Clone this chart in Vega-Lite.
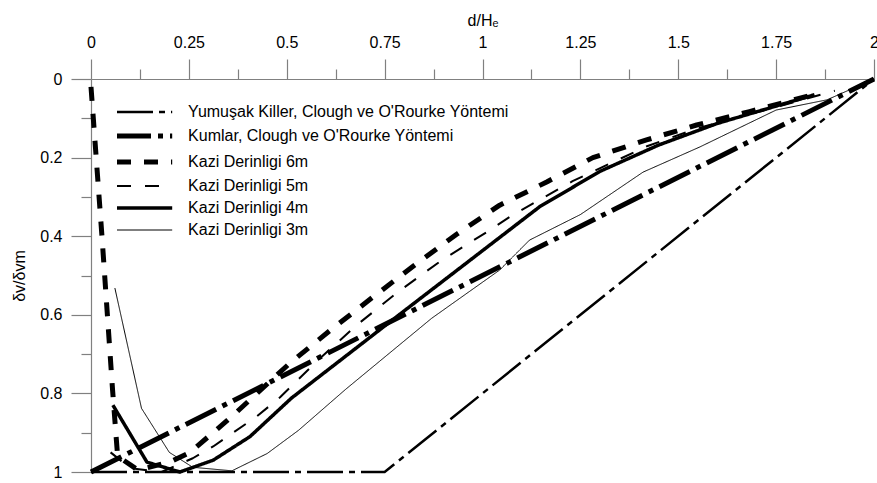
{
  "$schema": "https://vega.github.io/schema/vega-lite/v6.json",
  "autosize": {"type": "none"},
  "width": 783,
  "height": 393,
  "padding": {"left": 91, "top": 79, "right": 3, "bottom": 11},
  "background": "white",
  "data": {
    "values": [
      {"seri": "Yumuşak Killer, Clough ve O'Rourke Yöntemi", "d": 0, "v": 1},
      {"seri": "Yumuşak Killer, Clough ve O'Rourke Yöntemi", "d": 0.75, "v": 1},
      {"seri": "Yumuşak Killer, Clough ve O'Rourke Yöntemi", "d": 2, "v": 0},

      {"seri": "Kumlar, Clough ve O'Rourke Yöntemi", "d": 0, "v": 1},
      {"seri": "Kumlar, Clough ve O'Rourke Yöntemi", "d": 2, "v": 0},

      {"seri": "Kazi Derinligi 6m", "d": 0, "v": 0.02},
      {"seri": "Kazi Derinligi 6m", "d": 0.028, "v": 0.4},
      {"seri": "Kazi Derinligi 6m", "d": 0.055, "v": 0.79},
      {"seri": "Kazi Derinligi 6m", "d": 0.068, "v": 0.96},
      {"seri": "Kazi Derinligi 6m", "d": 0.12, "v": 0.995},
      {"seri": "Kazi Derinligi 6m", "d": 0.2, "v": 0.975},
      {"seri": "Kazi Derinligi 6m", "d": 0.253, "v": 0.95},
      {"seri": "Kazi Derinligi 6m", "d": 0.355, "v": 0.863},
      {"seri": "Kazi Derinligi 6m", "d": 0.508, "v": 0.723},
      {"seri": "Kazi Derinligi 6m", "d": 0.618, "v": 0.634},
      {"seri": "Kazi Derinligi 6m", "d": 0.72, "v": 0.555},
      {"seri": "Kazi Derinligi 6m", "d": 0.822, "v": 0.477},
      {"seri": "Kazi Derinligi 6m", "d": 0.934, "v": 0.395},
      {"seri": "Kazi Derinligi 6m", "d": 1.044, "v": 0.321},
      {"seri": "Kazi Derinligi 6m", "d": 1.164, "v": 0.262},
      {"seri": "Kazi Derinligi 6m", "d": 1.282, "v": 0.2},
      {"seri": "Kazi Derinligi 6m", "d": 1.419, "v": 0.155},
      {"seri": "Kazi Derinligi 6m", "d": 1.547, "v": 0.117},
      {"seri": "Kazi Derinligi 6m", "d": 1.682, "v": 0.083},
      {"seri": "Kazi Derinligi 6m", "d": 1.848, "v": 0.039},

      {"seri": "Kazi Derinligi 5m", "d": 0.05, "v": 0.95},
      {"seri": "Kazi Derinligi 5m", "d": 0.1, "v": 0.99},
      {"seri": "Kazi Derinligi 5m", "d": 0.18, "v": 1},
      {"seri": "Kazi Derinligi 5m", "d": 0.26, "v": 0.965},
      {"seri": "Kazi Derinligi 5m", "d": 0.312, "v": 0.935},
      {"seri": "Kazi Derinligi 5m", "d": 0.363, "v": 0.9},
      {"seri": "Kazi Derinligi 5m", "d": 0.424, "v": 0.858},
      {"seri": "Kazi Derinligi 5m", "d": 0.483, "v": 0.81},
      {"seri": "Kazi Derinligi 5m", "d": 0.58, "v": 0.715},
      {"seri": "Kazi Derinligi 5m", "d": 0.679, "v": 0.626},
      {"seri": "Kazi Derinligi 5m", "d": 0.784, "v": 0.542},
      {"seri": "Kazi Derinligi 5m", "d": 0.896, "v": 0.461},
      {"seri": "Kazi Derinligi 5m", "d": 1.01, "v": 0.39},
      {"seri": "Kazi Derinligi 5m", "d": 1.077, "v": 0.346},
      {"seri": "Kazi Derinligi 5m", "d": 1.23, "v": 0.26},
      {"seri": "Kazi Derinligi 5m", "d": 1.42, "v": 0.171},
      {"seri": "Kazi Derinligi 5m", "d": 1.55, "v": 0.125},
      {"seri": "Kazi Derinligi 5m", "d": 1.7, "v": 0.085},
      {"seri": "Kazi Derinligi 5m", "d": 1.9, "v": 0.03},

      {"seri": "Kazi Derinligi 4m", "d": 0.056, "v": 0.83},
      {"seri": "Kazi Derinligi 4m", "d": 0.143, "v": 0.975},
      {"seri": "Kazi Derinligi 4m", "d": 0.227, "v": 1},
      {"seri": "Kazi Derinligi 4m", "d": 0.312, "v": 0.97},
      {"seri": "Kazi Derinligi 4m", "d": 0.406, "v": 0.91},
      {"seri": "Kazi Derinligi 4m", "d": 0.512, "v": 0.812},
      {"seri": "Kazi Derinligi 4m", "d": 0.8, "v": 0.59},
      {"seri": "Kazi Derinligi 4m", "d": 1.146, "v": 0.325},
      {"seri": "Kazi Derinligi 4m", "d": 1.3, "v": 0.235},
      {"seri": "Kazi Derinligi 4m", "d": 1.45, "v": 0.168},
      {"seri": "Kazi Derinligi 4m", "d": 1.6, "v": 0.113},
      {"seri": "Kazi Derinligi 4m", "d": 1.848, "v": 0.04},

      {"seri": "Kazi Derinligi 3m", "d": 0.061, "v": 0.532},
      {"seri": "Kazi Derinligi 3m", "d": 0.129, "v": 0.838},
      {"seri": "Kazi Derinligi 3m", "d": 0.2, "v": 0.95},
      {"seri": "Kazi Derinligi 3m", "d": 0.26, "v": 0.988},
      {"seri": "Kazi Derinligi 3m", "d": 0.36, "v": 0.997},
      {"seri": "Kazi Derinligi 3m", "d": 0.45, "v": 0.953},
      {"seri": "Kazi Derinligi 3m", "d": 0.53, "v": 0.894},
      {"seri": "Kazi Derinligi 3m", "d": 0.65, "v": 0.79},
      {"seri": "Kazi Derinligi 3m", "d": 0.87, "v": 0.609},
      {"seri": "Kazi Derinligi 3m", "d": 1.044, "v": 0.486},
      {"seri": "Kazi Derinligi 3m", "d": 1.12, "v": 0.41},
      {"seri": "Kazi Derinligi 3m", "d": 1.25, "v": 0.345},
      {"seri": "Kazi Derinligi 3m", "d": 1.41, "v": 0.237},
      {"seri": "Kazi Derinligi 3m", "d": 1.555, "v": 0.173},
      {"seri": "Kazi Derinligi 3m", "d": 1.75, "v": 0.079},
      {"seri": "Kazi Derinligi 3m", "d": 1.88, "v": 0.053},
      {"seri": "Kazi Derinligi 3m", "d": 2, "v": 0}
    ]
  },
  "layer": [
    {
      "mark": {"type": "line", "color": "black", "strokeJoin": "round"},
      "encoding": {
        "x": {
          "field": "d", "type": "quantitative",
          "scale": {"domain": [0, 2], "nice": false, "zero": false},
          "axis": {
            "orient": "top",
            "title": "d/Hₑ",
            "values": [0, 0.25, 0.5, 0.75, 1, 1.25, 1.5, 1.75, 2],
            "format": ".3~g",
            "tickSize": 20,
            "labelPadding": 9,
            "titlePadding": 6,
            "labelFlush": false,
            "labelOverlap": false
          }
        },
        "y": {
          "field": "v", "type": "quantitative",
          "scale": {"domain": [0, 1], "nice": false, "zero": false, "reverse": true},
          "axis": {
            "orient": "left",
            "title": "δv/δvm",
            "values": [0, 0.2, 0.4, 0.6, 0.8, 1],
            "format": ".3~g",
            "tickSize": 20,
            "labelPadding": 9,
            "titlePadding": 12,
            "labelFlush": false,
            "labelOverlap": false
          }
        },
        "strokeDash": {
          "field": "seri", "type": "nominal",
          "scale": {
            "domain": [
              "Yumuşak Killer, Clough ve O'Rourke Yöntemi",
              "Kumlar, Clough ve O'Rourke Yöntemi",
              "Kazi Derinligi 6m",
              "Kazi Derinligi 5m",
              "Kazi Derinligi 4m",
              "Kazi Derinligi 3m"
            ],
            "range": [[36, 6, 6, 6], [34, 7, 5, 7], [14, 13], [14, 14], [1, 0], [1, 0]]
          },
          "legend": {
            "title": null,
            "orient": "none",
            "legendX": 45.6,
            "legendY": 25,
            "padding": 0,
            "symbolType": "M-4.6,0H4.6",
            "symbolSize": 144,
            "symbolStrokeColor": "black",
            "symbolFillColor": "transparent",
            "symbolStrokeWidth": 3,
            "labelOffset": 35.5,
            "labelFontSize": 16,
            "labelColor": "black",
            "labelLimit": 0,
            "rowPadding": 6,
            "encode": {
              "symbols": {
                "update": {
                  "strokeWidth": {"signal": "datum.label === 'Kazi Derinligi 3m' ? 1 : datum.label === 'Kazi Derinligi 5m' ? 2 : datum.label === 'Kazi Derinligi 4m' ? 3.5 : datum.label === 'Kazi Derinligi 6m' ? 5 : datum.index === 1 ? 5 : 2.5"}
                }
              }
            }
          }
        },
        "strokeWidth": {
          "condition": [
            {"test": "indexof(datum.seri, 'Kumlar') >= 0", "value": 5},
            {"test": "datum.seri === 'Kazi Derinligi 6m'", "value": 5},
            {"test": "datum.seri === 'Kazi Derinligi 5m'", "value": 2},
            {"test": "datum.seri === 'Kazi Derinligi 4m'", "value": 3.5},
            {"test": "datum.seri === 'Kazi Derinligi 3m'", "value": 1}
          ],
          "value": 2.5
        }
      }
    },
    {
      "mark": {"type": "point", "opacity": 0},
      "encoding": {
        "x": {
          "field": "d", "type": "quantitative",
          "axis": {
            "orient": "top",
            "title": null,
            "values": [0.125, 0.375, 0.625, 0.875, 1.125, 1.375, 1.625, 1.875],
            "tickSize": 10,
            "labels": false,
            "domain": false
          }
        },
        "y": {
          "field": "v", "type": "quantitative",
          "axis": {
            "orient": "left",
            "title": null,
            "values": [0.1, 0.3, 0.5, 0.7, 0.9],
            "tickSize": 10,
            "labels": false,
            "domain": false
          }
        }
      }
    }
  ],
  "resolve": {"axis": {"x": "independent", "y": "independent"}},
  "config": {
    "view": {"stroke": null},
    "font": "Liberation Sans",
    "axis": {
      "grid": false,
      "domainColor": "#808080",
      "domainWidth": 1.2,
      "tickColor": "#808080",
      "tickWidth": 1.2,
      "labelFont": "Liberation Sans",
      "labelFontSize": 16,
      "labelColor": "black",
      "titleFont": "Liberation Sans",
      "titleFontSize": 16,
      "titleFontWeight": "normal",
      "titleColor": "black"
    },
    "legend": {
      "labelFont": "Liberation Sans"
    }
  }
}
